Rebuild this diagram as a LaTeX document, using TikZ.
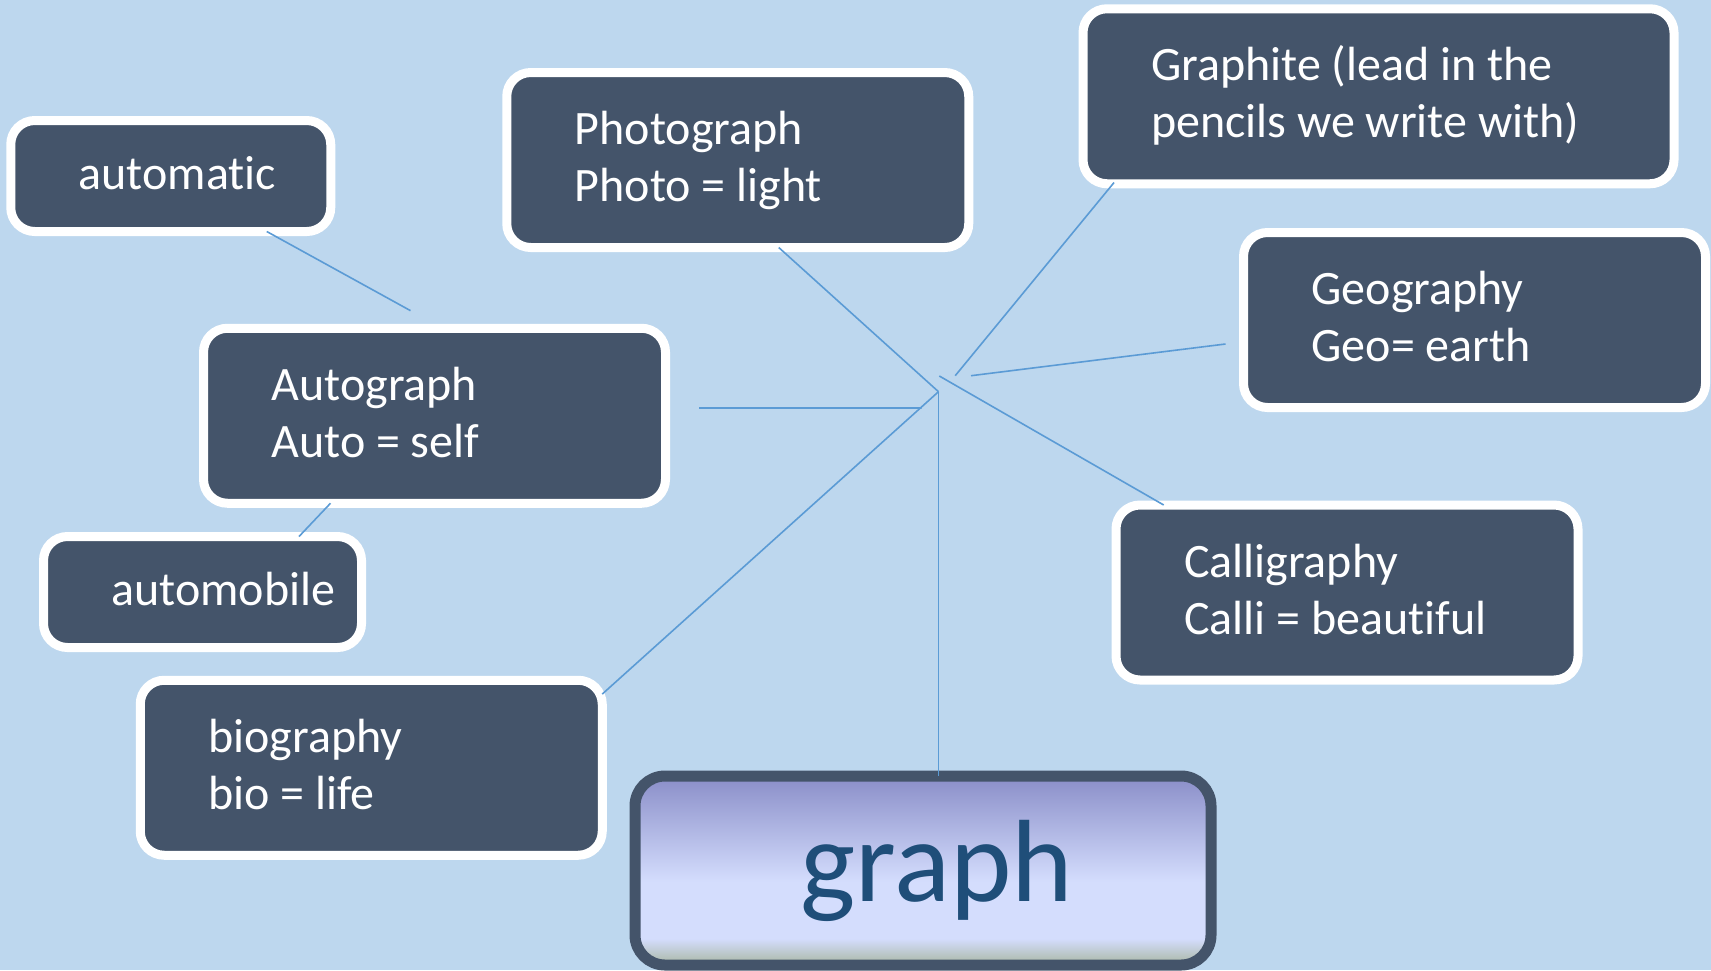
\documentclass[tikz,border=0pt]{standalone}
\usepackage{fontspec}
\setmainfont{Carlito}[Ligatures={NoCommon}]
\usepackage{tikz}

\definecolor{pagebg}{HTML}{BDD7EE}
\definecolor{boxslate}{HTML}{44546A}
\definecolor{linkblue}{HTML}{5B9BD5}
\definecolor{graphtext}{HTML}{1F4E79}
\definecolor{shadetop}{HTML}{8A8EC8}
\definecolor{shademid}{HTML}{D4DDFD}
\definecolor{shadebot}{HTML}{A8B6A2}
\pgfdeclareverticalshading{graphfill}{100bp}{color(0bp)=(shadebot); color(25bp)=(shadebot); color(32bp)=(shademid); color(47bp)=(shademid); color(75bp)=(shadetop); color(100bp)=(shadetop)}

\newcommand\boxstrut{\spaceskip=5.4pt\relax\rule[-7.75pt]{0pt}{28.5pt}}

\tikzset{
    wordbox/.style={rounded corners=12pt, fill=boxslate, draw=white, line width=4.5pt, outer sep=0pt,
        text=white, font=\fontsize{24pt}{28.5pt}\selectfont, align=left,
        inner xsep=34pt, inner ysep=0pt, minimum width=231pt, minimum height=87.5pt,
        text width=163pt, execute at begin node=\boxstrut, execute at end node=\boxstrut},
    rootbox/.style={rounded corners=15pt, shade, shading=graphfill, draw=boxslate, line width=5.5pt, outer sep=0pt,
        text=graphtext, font=\fontsize{58.5pt}{62pt}\selectfont, inner sep=0pt,
        minimum width=288pt, minimum height=94.5pt},
    link/.style={draw=linkblue, line width=0.8pt}
}

\begin{document}
\begin{tikzpicture}[x=0.5pt,y=-0.5pt]
    \fill[pagebg] (0,0) rectangle (1711,970);
    \useasboundingbox (0,0) rectangle (1711,970);

    \node[wordbox, minimum width=160pt, minimum height=55.5pt, text width=92pt] (automatic) at (170.75,176) {automatic};
    \node[wordbox, minimum width=159pt, minimum height=55.5pt, text width=91pt] (automobile) at (202.5,592) {automobile};
    \node[wordbox] (photograph) at (737.75,160) {Photograph\\Photo = light};
    \node[wordbox, minimum width=295.5pt, text width=227.5pt] (graphite) at (1378.5,96.25) {Graphite (lead in the\\pencils we write with)};
    \node[wordbox] (geography) at (1474.5,320) {Geography\\Geo= earth};
    \node[wordbox] (autograph) at (434.5,415.75) {Autograph\\Auto = self};
    \node[wordbox] (calligraphy) at (1347,592.5) {Calligraphy\\Calli = beautiful};
    \node[wordbox] (biography) at (371.25,767.75) {biography\\bio = life};
    \node[rootbox] (graph) at (923,870.5) {\hspace*{14pt}graph};

    \coordinate (hub) at (938.5,391.7);
    \coordinate (graphiteend) at (955.2,375.7);
    \coordinate (geographyend) at (971,375.7);
    \coordinate (calligraphyend) at (939.3,376);
    \coordinate (autographend) at (921.5,408);

    \draw[link] ([xshift=48pt]automatic.south) -- ([xshift=-12pt,yshift=8.8pt]autograph.north);
    \draw[link] ([xshift=-52pt]autograph.south) -- ([xshift=48.25pt]automobile.north);
    \draw[link] ([xshift=20.5pt]photograph.south) -- (hub);
    \draw[link] ([xshift=15.5pt,yshift=0.6pt]graphite.south west) -- (graphiteend);
    \draw[link] ([xshift=-9pt,yshift=-12pt]geography.west) -- (geographyend);
    \draw[link] ([xshift=16.75pt,yshift=3.9pt]autograph.east) -- (autographend);
    \draw[link] ([xshift=23.85pt]calligraphy.north west) -- (calligraphyend);
    \draw[link] ([yshift=-6.9pt]biography.north east) -- (hub);
    \draw[link] (hub) -- ([xshift=7.75pt]graph.north);
\end{tikzpicture}
\end{document}
